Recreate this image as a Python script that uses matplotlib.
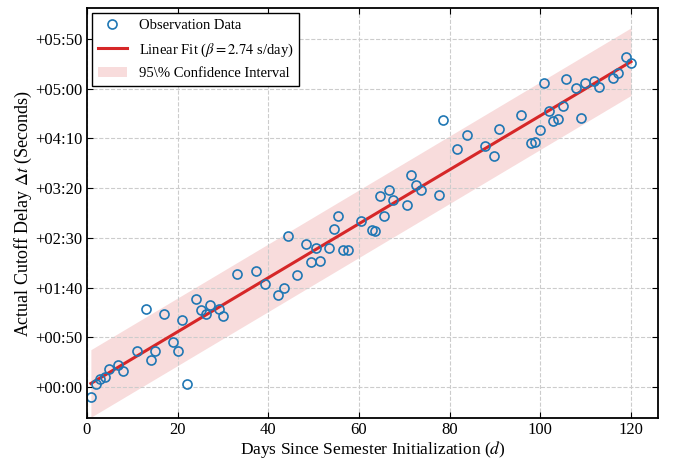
import numpy as np
import matplotlib
matplotlib.use("Agg")
import matplotlib.pyplot as plt
from matplotlib.ticker import MultipleLocator, FuncFormatter

days = [0.9, 2.0, 2.9, 4.0, 4.9, 6.9, 8.0, 11.0, 13.0, 14.1, 15.1, 17.1, 19.1, 20.2, 20.9, 22.2,
        24.1, 25.1, 26.2, 27.2, 29.2, 30.1, 33.2, 37.3, 39.3, 42.1, 43.4,
        44.4, 46.3, 48.4, 49.4, 50.5, 51.5, 53.3, 54.4, 55.4, 56.5, 57.5, 60.5, 62.8, 63.6,
        64.6, 65.5, 66.6, 67.6, 70.7, 71.5, 72.6, 73.6, 77.6, 78.6, 81.7, 83.8,
        87.8, 89.8, 90.8, 95.8, 97.9, 98.8, 99.9, 100.8, 101.9, 102.9, 103.9, 104.9, 105.6,
        107.8, 108.9, 109.9, 111.9, 113.0, 116.0, 117.1, 119.0, 120.0]
delay = [-9.7, 3.3, 8.3, 10.3, 18.4, 21.8, 16.0, 36.4, 78.5, 26.8, 36.1, 73.5, 44.8, 35.8, 67.2, 3.3,
         88.6, 76.9, 73.2, 81.9, 78.2, 71.2, 113.6, 117.0, 103.6, 92.3, 100.0,
         152.2, 112.6, 143.4, 126.1, 139.4, 126.4, 140.1, 158.8, 171.8, 137.4, 137.4, 167.2, 157.5, 157.2,
         192.3, 172.2, 197.9, 187.9, 182.8, 212.9, 202.9, 197.9, 193.6, 268.1, 239.7, 253.3,
         242.4, 232.0, 259.1, 273.8, 245.7, 246.4, 258.1, 305.9, 277.5, 267.5, 269.8, 282.3, 309.9,
         300.6, 270.8, 305.6, 307.6, 301.6, 310.9, 315.6, 331.7, 325.7]
beta_label = 2.74
ci_half = 34.0

days = np.asarray(days)
delay = np.asarray(delay)
slope, intercept = np.polyfit(days, delay, 1)
xfit = np.linspace(days.min(), days.max(), 200)
yfit = slope * xfit + intercept

plt.rcParams['font.family'] = ['Liberation Serif', 'DejaVu Serif']
plt.rcParams['mathtext.fontset'] = 'stix'

fig = plt.figure(figsize=(6.73, 4.61), dpi=100)
ax = fig.add_axes([0.129, 0.094, 0.849, 0.888])

ax.fill_between(xfit, yfit - ci_half, yfit + ci_half, color='#d62728', alpha=0.16,
                linewidth=0, label='95\\% Confidence Interval')
ax.plot(xfit, yfit, color='#d62728', lw=2.2,
        label=r'Linear Fit ($\beta=%.2f$ s/day)' % beta_label)
ax.plot(days, delay, 'o', mfc='none', mec='#1f77b4', mew=1.2, ms=6.5,
        label='Observation Data')

ax.set_xlim(0, 126)
ax.set_ylim(-31, 381)
ax.xaxis.set_major_locator(MultipleLocator(20))
ax.yaxis.set_major_locator(MultipleLocator(50))
ax.yaxis.set_major_formatter(FuncFormatter(lambda v, p: '+%02d:%02d' % (int(v) // 60, int(v) % 60)))
ax.tick_params(direction='in', top=True, right=True, labelsize=12, length=4, pad=3)
ax.grid(True, ls='--', color='#cccccc', lw=0.8)
for s in ax.spines.values():
    s.set_linewidth(1.3)

ax.set_xlabel(r'Days Since Semester Initialization ($d$)', fontsize=12.5, labelpad=1)
ax.set_ylabel(r'Actual Cutoff Delay $\Delta t$ (Seconds)', fontsize=13, labelpad=1)

h, l = ax.get_legend_handles_labels()
order = [2, 1, 0]
leg = ax.legend([h[i] for i in order], [l[i] for i in order], loc='upper left',
                fontsize=10.5, fancybox=False, edgecolor='black', framealpha=1,
                labelspacing=0.6, borderaxespad=0.35)
leg.get_frame().set_linewidth(1.0)

fig.savefig('out.png', dpi=100)
